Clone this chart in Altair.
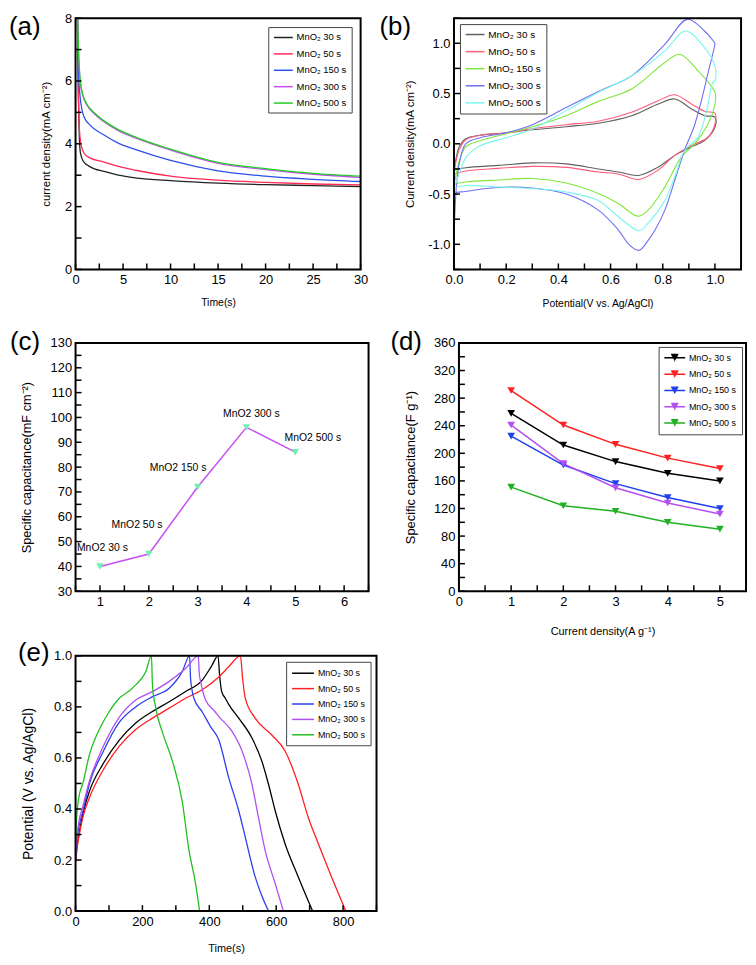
import altair as alt
import pandas as pd

FONT = "Liberation Sans, Arial, sans-serif"

series = ["MnO₂ 30 s", "MnO₂ 50 s", "MnO₂ 150 s", "MnO₂ 300 s", "MnO₂ 500 s"]
panel_labels = ["(a)", "(b)", "(c)", "(d)", "(e)"]

# ---------------- (a) current density vs time ----------------
a_t_30 = [0.15, 0.3, 0.4, 0.52, 0.8, 1.2, 2, 3, 4.5, 6.5, 10, 15, 20, 25, 30]
a_j_30 = [9.0, 5.5, 4.2, 3.7, 3.45, 3.33, 3.2, 3.12, 3.0, 2.91, 2.83, 2.75, 2.7, 2.67, 2.64]
a_t_50 = [0.15, 0.3, 0.4, 0.6, 0.9, 1.5, 3, 4.5, 6.5, 10, 15, 20, 25, 30]
a_j_50 = [9.0, 5.6, 4.5, 3.95, 3.7, 3.55, 3.42, 3.28, 3.15, 2.97, 2.84, 2.77, 2.72, 2.69]
a_t_150 = [0.15, 0.3, 0.5, 0.9, 1.5, 3, 4.5, 6.5, 10, 15, 20, 25, 30]
a_j_150 = [9.0, 6.3, 5.45, 4.85, 4.6, 4.28, 4.02, 3.8, 3.47, 3.14, 2.97, 2.87, 2.8]
a_t_300 = [0.15, 0.3, 0.5, 0.8, 1.2, 2, 3, 4.5, 6.5, 10, 15, 20, 25, 30]
a_j_300 = [9.0, 7.0, 5.95, 5.5, 5.23, 4.95, 4.7, 4.42, 4.16, 3.8, 3.38, 3.18, 3.03, 2.93]
a_t_500 = [0.15, 0.3, 0.5, 0.8, 1.2, 2, 3, 4.5, 6.5, 10, 15, 20, 25, 30]
a_j_500 = [9.0, 7.1, 6.0, 5.53, 5.26, 4.98, 4.73, 4.45, 4.19, 3.83, 3.41, 3.21, 3.06, 2.97]
a_colors = ["#222222", "#ff2a55", "#2d4fe8", "#c74ff0", "#22cc22"]

# ---------------- (b) CV loops (anodic then cathodic sweep) ----------------
b_E_30 = [0, 0.01, 0.02, 0.045, 0.1, 0.2, 0.3, 0.43, 0.553, 0.681, 0.783, 0.846, 0.91, 0.96, 1.0,
          1.0, 0.96, 0.91, 0.846, 0.783, 0.706, 0.63, 0.553, 0.43, 0.3, 0.17, 0.045, 0]
b_I_30 = [-0.26, -0.12, -0.03, 0.05, 0.085, 0.11, 0.14, 0.17, 0.205, 0.28, 0.396, 0.446, 0.347, 0.28, 0.264,
          0.165, 0.033, -0.03, -0.115, -0.23, -0.315, -0.28, -0.25, -0.2, -0.19, -0.215, -0.238, -0.26]
b_E_50 = [0, 0.01, 0.02, 0.045, 0.1, 0.2, 0.3, 0.43, 0.553, 0.681, 0.783, 0.846, 0.91, 0.96, 1.0,
          1.0, 0.973, 0.91, 0.846, 0.783, 0.706, 0.63, 0.553, 0.43, 0.3, 0.17, 0.045, 0]
b_I_50 = [-0.30, -0.15, -0.06, 0.04, 0.085, 0.11, 0.15, 0.19, 0.225, 0.314, 0.429, 0.488, 0.396, 0.323, 0.304,
          0.198, 0.065, -0.017, -0.115, -0.26, -0.355, -0.3, -0.28, -0.235, -0.225, -0.245, -0.27, -0.3]
b_E_150 = [0, 0.01, 0.02, 0.045, 0.1, 0.2, 0.3, 0.43, 0.553, 0.681, 0.808, 0.865, 0.935, 1.0,
           1.0, 0.973, 0.922, 0.871, 0.808, 0.744, 0.704, 0.63, 0.553, 0.43, 0.3, 0.17, 0.045, 0]
b_I_150 = [-0.42, -0.28, -0.17, -0.03, 0.03, 0.1, 0.17, 0.28, 0.422, 0.545, 0.809, 0.891, 0.726, 0.512,
           0.396, 0.198, 0.0, -0.132, -0.429, -0.66, -0.72, -0.594, -0.495, -0.39, -0.345, -0.36, -0.38, -0.4]
b_E_300 = [0, 0.005, 0.01, 0.02, 0.045, 0.1, 0.2, 0.3, 0.43, 0.553, 0.681, 0.808, 0.894, 0.96, 1.0,
           1.0, 0.975, 0.95, 0.92, 0.887, 0.85, 0.808, 0.77, 0.744, 0.709, 0.67, 0.63, 0.553, 0.43, 0.3, 0.17, 0.045, 0, 0]
b_I_300 = [-0.92, -0.6, -0.4, -0.2, 0.0, 0.06, 0.11, 0.19, 0.36, 0.521, 0.676, 0.99, 1.238, 1.122, 0.997,
           0.99, 0.72, 0.45, 0.17, -0.04, -0.33, -0.66, -0.86, -0.96, -1.06, -1.0, -0.858, -0.66, -0.5, -0.44, -0.435, -0.475, -0.5, -0.92]
b_E_500 = [0, 0.01, 0.02, 0.045, 0.1, 0.2, 0.3, 0.43, 0.553, 0.681, 0.808, 0.887, 0.96, 1.0,
           1.0, 0.99, 0.97, 0.935, 0.884, 0.85, 0.808, 0.744, 0.709, 0.63, 0.553, 0.43, 0.3, 0.17, 0.045, 0]
b_I_500 = [-0.44, -0.37, -0.3, -0.14, -0.02, 0.06, 0.146, 0.33, 0.512, 0.676, 0.924, 1.122, 0.957, 0.776,
           0.63, 0.6, 0.35, 0.066, -0.066, -0.3, -0.564, -0.79, -0.865, -0.726, -0.564, -0.48, -0.445, -0.43, -0.415, -0.44]
b_colors = ["#606060", "#ff5c7a", "#7fe83a", "#6f6ff0", "#7af5ec"]

# ---------------- (c) areal capacitance ----------------
c_x = [1, 2, 3, 4, 5]
c_y = [40, 45, 72, 96, 86]
c_lab = ["MnO2 30 s", "MnO2 50 s", "MnO2 150 s", "MnO2 300 s", "MnO2 500 s"]
c_lab_x = [1.05, 1.76, 2.6, 4.1, 5.36]
c_lab_y = [47.5, 56.5, 79.5, 101.5, 91.9]

# ---------------- (d) specific capacitance vs current density ----------------
d_x = [1, 2, 3, 4, 5]
d_30 = [258, 212, 188, 171, 160]
d_50 = [291, 241, 213, 193, 178]
d_150 = [225, 183, 156, 136, 120]
d_300 = [241, 185, 150, 128, 112]
d_500 = [151, 124, 116, 100, 90]
d_colors = ["#000000", "#ff2020", "#2040f0", "#b44ff0", "#20b020"]

# ---------------- (e) charge / discharge ----------------
e_t_30 = [0, 5, 10, 21.8, 41.7, 81, 131, 180, 230, 280, 329, 379, 408, 426, 431, 437, 448, 458, 488, 527.5, 557, 577, 597, 626.5, 666, 709]
e_v_30 = [0.2, 0.26, 0.3, 0.38, 0.47, 0.574, 0.67, 0.737, 0.782, 0.82, 0.86, 0.905, 0.963, 1.0, 0.92, 0.86, 0.834, 0.81, 0.756, 0.678, 0.588, 0.497, 0.393, 0.264, 0.134, 0.0]
e_t_50 = [0, 5, 10, 21.8, 41.7, 81, 131, 180, 230, 280, 329, 379, 429, 458, 493, 499.6, 507.5, 537, 587, 626.5, 666, 696, 726, 765.5, 808]
e_v_50 = [0.19, 0.25, 0.29, 0.367, 0.445, 0.549, 0.646, 0.711, 0.756, 0.795, 0.834, 0.867, 0.918, 0.957, 1.0, 0.911, 0.834, 0.756, 0.69, 0.627, 0.497, 0.367, 0.264, 0.134, 0.0]
e_t_150 = [0, 5, 10, 21.8, 41.7, 81, 131, 180, 230, 280, 319, 341, 344, 354, 379, 405, 428, 458, 488, 507.5, 537, 557, 577]
e_v_150 = [0.2, 0.29, 0.33, 0.39, 0.5, 0.62, 0.74, 0.8, 0.84, 0.873, 0.938, 1.0, 0.91, 0.834, 0.78, 0.72, 0.672, 0.523, 0.393, 0.29, 0.135, 0.06, 0.0]
e_t_300 = [0, 5, 10, 21.8, 41.7, 81, 131, 180, 230, 280, 329, 367, 370, 374, 388, 418, 428, 468, 498, 527.5, 547, 567, 597, 621.5]
e_v_300 = [0.2, 0.3, 0.35, 0.41, 0.51, 0.64, 0.76, 0.827, 0.86, 0.9, 0.95, 1.0, 0.93, 0.9, 0.83, 0.78, 0.763, 0.704, 0.627, 0.497, 0.367, 0.238, 0.108, 0.0]
e_t_500 = [0, 3, 7, 12, 21.8, 41.7, 60, 81, 100, 131, 160, 180, 210, 227, 230, 240, 260, 289.5, 319, 339, 359, 371]
e_v_500 = [0.28, 0.36, 0.42, 0.46, 0.5, 0.614, 0.68, 0.737, 0.78, 0.834, 0.862, 0.886, 0.938, 1.0, 0.886, 0.795, 0.7, 0.588, 0.43, 0.24, 0.107, 0.0]
e_colors = ["#000000", "#ff2020", "#2a3ff0", "#b050f0", "#20c020"]

LINE_SYM = "M-1,0L3,0"
TRI_SYM = ("M-1,0L3,0 M0.3,-0.62L1.7,-0.62 M0.42,-0.38L1.58,-0.38 M0.56,-0.14L1.44,-0.14 "
           "M0.7,0.1L1.3,0.1 M0.83,0.34L1.17,0.34 M0.95,0.55L1.05,0.55")
TICK = 6


def frame(xs_list, ys_list):
    rows = []
    for name, xs, ys in zip(series, xs_list, ys_list):
        for i, (x, y) in enumerate(zip(xs, ys)):
            rows.append({"s": name, "x": x, "y": y, "i": i})
    return pd.DataFrame(rows)


def steps(start, stop, step):
    n = int(round((stop - start) / step))
    return [round(start + k * step, 6) for k in range(n + 1)]


def x_axis(values, expr, width, title=None, title_y=28, title_size=11):
    kw = dict(values=values, labelExpr=expr, ticks=False, domain=False, grid=False, labelPadding=4,
              labelFont=FONT, labelFontSize=13, labelColor="black", labelOverlap=False,
              labelFlush=False)
    if title is None:
        kw["title"] = None
    else:
        kw.update(title=title, titleFont=FONT, titleFontSize=title_size, titleFontWeight="normal",
                  titleColor="black", titleX=width / 2, titleY=title_y, titleAlign="center",
                  titleBaseline="top", titleAngle=0)
    return alt.Axis(**kw)


def y_axis(values, expr, height, title, center_x, title_size=12):
    return alt.Axis(values=values, labelExpr=expr, ticks=False, domain=False, grid=False, labelPadding=4,
                    labelFont=FONT, labelFontSize=13, labelColor="black", labelOverlap=False,
                    labelFlush=False, title=title, titleFont=FONT, titleFontSize=title_size,
                    titleFontWeight="normal", titleColor="black", titleX=center_x - title_size / 2,
                    titleY=height / 2, titleAlign="center", titleBaseline="top", titleAngle=270)


def legend(orient, offset, size, sym, symsize, label_offset, row_pad):
    return alt.Legend(title=None, orient=orient, offset=offset, symbolType=sym,
                      symbolSize=symsize, symbolStrokeWidth=1.5, labelFont=FONT,
                      labelFontSize=size, labelColor="black", strokeColor="#444444",
                      fillColor="white", padding=5, rowPadding=row_pad, labelOffset=label_offset)


def panel_tag(txt, x, y):
    return alt.Chart(pd.DataFrame({"lab": [txt]})).mark_text(
        align="left", baseline="top", font=FONT, fontSize=26, color="black", x=x, y=y
    ).encode(text="lab:N")


def guides(xenc, yenc, xvals, yvals, W, H):
    """Inward tick marks (through the panel scales) and a black frame."""
    bottom = alt.Chart(pd.DataFrame({"x": xvals})).mark_rule(color="black", strokeWidth=1.5).encode(
        x=xenc, y=alt.value(H - TICK), y2=alt.value(H))
    left = alt.Chart(pd.DataFrame({"y": yvals})).mark_rule(color="black", strokeWidth=1.5).encode(
        y=yenc, x=alt.value(0), x2=alt.value(TICK))
    box = alt.Chart(pd.DataFrame({"f": [0]})).mark_rect(fillOpacity=0, stroke="black", strokeWidth=2).encode(
        x=alt.value(0), x2=alt.value(W), y=alt.value(0), y2=alt.value(H))
    return [bottom, left, box]


# ---- panel a
AW, AH = 287, 253
a_xv, a_yv = steps(0, 30, 2.5), steps(0, 8, 1)
a_x = alt.X("x:Q", scale=alt.Scale(domain=[0, 30], nice=False),
            axis=x_axis(a_xv, "datum.value % 5 === 0 ? format(datum.value, 'd') : ''", AW, "Time(s)", 28, 10.5))
a_y = alt.Y("y:Q", scale=alt.Scale(domain=[0, 8], nice=False),
            axis=y_axis(a_yv, "datum.value % 2 === 0 ? format(datum.value, 'd') : ''", AH,
                        "current density(mA cm⁻²)", -29, 11.5))
df_a = frame([a_t_30, a_t_50, a_t_150, a_t_300, a_t_500], [a_j_30, a_j_50, a_j_150, a_j_300, a_j_500])
a_lines = alt.Chart(df_a).mark_line(strokeWidth=1.3, clip=True, interpolate="monotone").encode(
    x=a_x, y=a_y,
    color=alt.Color("s:N", scale=alt.Scale(domain=series, range=a_colors),
                    legend=legend("top-right", 9, 9.5, LINE_SYM, 90, 12.5, 6.5)),
)
chart_a = alt.layer(a_lines, *guides(a_x, a_y, a_xv, a_yv, AW, AH),
                    panel_tag(panel_labels[0], -67, -4)).properties(width=AW, height=AH)

# ---- panel b
BW, BH = 289, 253
b_xv, b_yv = steps(0, 1.1, 0.1), steps(-1.25, 1.25, 0.25)
b_x = alt.X("x:Q", scale=alt.Scale(domain=[0, 1.1], nice=False),
            axis=x_axis(b_xv, "(round(datum.value*10) % 2 === 0) ? format(datum.value, '.1f') : ''",
                        BW, "Potential(V vs. Ag/AgCl)", 29, 10.5))
b_y = alt.Y("y:Q", scale=alt.Scale(domain=[-1.25, 1.25], nice=False),
            axis=y_axis(b_yv, "(round(datum.value*4) % 2 === 0) ? replace(format(datum.value, '.1f'), '\u2212', '-') : ''",
                        BH, "Current density(mA cm⁻²)", -44.5, 11.5))
df_b = frame([b_E_30, b_E_50, b_E_150, b_E_300, b_E_500], [b_I_30, b_I_50, b_I_150, b_I_300, b_I_500])
b_lines = alt.Chart(df_b).mark_line(strokeWidth=1.1, clip=True, interpolate="catmull-rom").encode(
    x=b_x, y=b_y,
    color=alt.Color("s:N", scale=alt.Scale(domain=series, range=b_colors),
                    legend=legend("top-left", 6, 10, LINE_SYM, 90, 12.5, 6.2)),
    order="i:Q",
)
chart_b = alt.layer(b_lines, *guides(b_x, b_y, b_xv, b_yv, BW, BH),
                    panel_tag(panel_labels[1], -75, -4)).properties(width=BW, height=BH)

# ---- panel c
CW, CH = 295, 250
c_xv, c_yv = steps(0.5, 6.5, 0.5), steps(30, 130, 5)
c_xe = alt.X("x:Q", scale=alt.Scale(domain=[0.5, 6.5], nice=False),
             axis=x_axis(c_xv, "datum.value % 1 === 0 ? format(datum.value, 'd') : ''", CW))
c_ye = alt.Y("y:Q", scale=alt.Scale(domain=[30, 130], nice=False),
             axis=y_axis(c_yv, "datum.value % 10 === 0 ? format(datum.value, 'd') : ''", CH,
                         "Specific capacitance(mF cm⁻²)", -49, 12.8))
df_c = pd.DataFrame({"x": c_x, "y": c_y})
df_cl = pd.DataFrame({"x": c_lab_x, "y": c_lab_y, "t": c_lab})
c_line = alt.Chart(df_c).mark_line(color="#c84ff0", strokeWidth=1.5).encode(x=c_xe, y=c_ye)
c_pts = alt.Chart(df_c).mark_point(shape="triangle-down", filled=True, size=55, color="#6ff0b0", opacity=1).encode(
    x=c_xe, y=c_ye)
c_txt = alt.Chart(df_cl).mark_text(font=FONT, fontSize=10.5, color="black", baseline="middle").encode(
    x=c_xe, y=c_ye, text="t:N")
chart_c = alt.layer(c_line, c_pts, c_txt, *guides(c_xe, c_ye, c_xv, c_yv, CW, CH),
                    panel_tag(panel_labels[2], -66, -13.5)).properties(width=CW, height=CH)

# ---- panel d
DW, DH = 289, 250
d_xv, d_yv = steps(0, 5.5, 0.5), steps(0, 360, 20)
d_xe = alt.X("x:Q", scale=alt.Scale(domain=[0, 5.5], nice=False),
             axis=x_axis(d_xv, "datum.value % 1 === 0 ? format(datum.value, 'd') : ''", DW,
                         "Current density(A g⁻¹)", 35, 11))
d_ye = alt.Y("y:Q", scale=alt.Scale(domain=[0, 360], nice=False),
             axis=y_axis(d_yv, "datum.value % 40 === 0 ? format(datum.value, 'd') : ''", DH,
                         "Specific capacitance(F g⁻¹)", -48, 13))
df_d = frame([d_x] * 5, [d_30, d_50, d_150, d_300, d_500])
d_lines = alt.Chart(df_d).mark_line(strokeWidth=1.5).encode(
    x=d_xe, y=d_ye,
    color=alt.Color("s:N", scale=alt.Scale(domain=series, range=d_colors),
                    legend=legend("top-right", 4, 9, TRI_SYM, 110, 13.5, 3.4)),
)
d_pts = alt.Chart(df_d).mark_point(shape="triangle-down", filled=True, size=60, opacity=1).encode(
    x=d_xe, y=d_ye,
    fill=alt.Fill("s:N", scale=alt.Scale(domain=series, range=d_colors), legend=None),
)
chart_d = alt.layer(d_lines, d_pts, *guides(d_xe, d_ye, d_xv, d_yv, DW, DH),
                    panel_tag(panel_labels[3], -69, -13.5)).properties(width=DW, height=DH)

# ---- panel e
EW, EH = 303, 257
e_xv, e_yv = steps(0, 900, 100), steps(0, 1, 0.1)
e_xe = alt.X("x:Q", scale=alt.Scale(domain=[0, 900], nice=False),
             axis=x_axis(e_xv, "datum.value % 200 === 0 ? format(datum.value, 'd') : ''", EW, "Time(s)", 32, 11))
e_ye = alt.Y("y:Q", scale=alt.Scale(domain=[0, 1], nice=False),
             axis=y_axis(e_yv, "(round(datum.value*10) % 2 === 0) ? format(datum.value, '.1f') : ''", EH,
                         "Potential (V vs. Ag/AgCl)", -47, 14))
df_e = frame([e_t_30, e_t_50, e_t_150, e_t_300, e_t_500], [e_v_30, e_v_50, e_v_150, e_v_300, e_v_500])
e_lines = alt.Chart(df_e).mark_line(strokeWidth=1.3, clip=True, interpolate="monotone").encode(
    x=e_xe, y=e_ye,
    color=alt.Color("s:N", scale=alt.Scale(domain=series, range=e_colors),
                    legend=legend("top-right", 6, 9, LINE_SYM, 121, 14, 3.5)),
)
chart_e = alt.layer(e_lines, *guides(e_xe, e_ye, e_xv, e_yv, EW, EH),
                    panel_tag(panel_labels[4], -58, -15.5)).properties(width=EW, height=EH)

row1 = alt.hconcat(chart_a, chart_b, spacing=10).resolve_scale(color="independent", fill="independent").resolve_legend(color="independent")
row2 = alt.hconcat(chart_c, chart_d, spacing=19).resolve_scale(color="independent", fill="independent").resolve_legend(color="independent")
upper = alt.concat(row1, row2, columns=1, spacing=20, align="none").resolve_scale(
    color="independent", fill="independent").resolve_legend(color="independent")
chart = alt.concat(upper, chart_e, columns=1, spacing=2, align="none").resolve_scale(
    color="independent", fill="independent").resolve_legend(color="independent")

chart = chart.properties(padding=0).configure(font=FONT, background="white").configure_view(
    stroke="transparent")

chart.save("out.html", embed_options={"renderer": "svg", "actions": False})
